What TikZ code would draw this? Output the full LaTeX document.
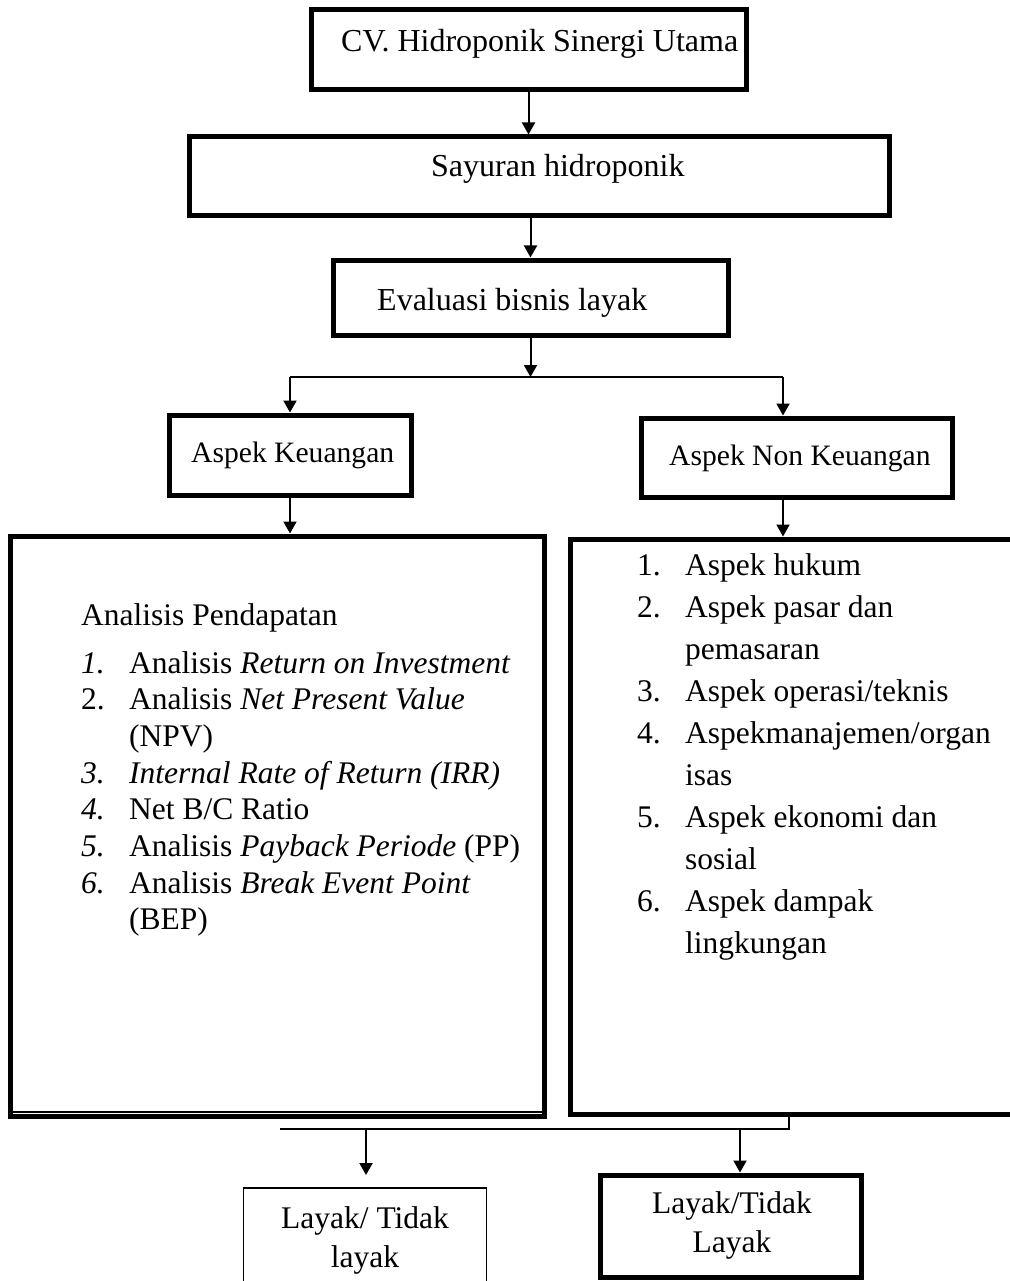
\documentclass[tikz,border=0pt]{standalone}
\usepackage{fontspec}
\setmainfont{Liberation Serif}
\usetikzlibrary{arrows.meta}

\begin{document}
\begin{tikzpicture}[x=1pt,y=-1pt,
  thickbox/.style={draw,line width=5pt,inner sep=0pt},
  thinbox/.style={draw,line width=1.8pt,inner sep=0pt},
  lbl/.style={inner sep=0pt,font=\fontsize{31.5}{38}\selectfont},
  conn/.style={line width=2pt,-{Triangle[length=12pt,width=13pt]}},
  plain/.style={line width=2pt}]
  \useasboundingbox (0,0) rectangle (1009,1281);
  % boxes
  \node[thickbox,minimum width=435pt,minimum height=80pt] (cv) at (528.5,50) {};
  \node[thickbox,minimum width=700pt,minimum height=79pt] (sayur) at (539,176.5) {};
  \node[thickbox,minimum width=395pt,minimum height=75pt] (evb) at (530.5,297.5) {};
  \node[thickbox,minimum width=242pt,minimum height=80pt] (keu) at (290,455) {};
  \node[thickbox,minimum width=311pt,minimum height=79pt] (nonkeu) at (796.5,457.5) {};
  \node[thickbox,minimum width=534pt,minimum height=580pt] (finbox) at (277,826) {};
  \node[thickbox,minimum width=470pt,minimum height=575pt] (nfinbox) at (805,826.5) {};
  \node[thinbox,minimum width=243pt,minimum height=112pt] (hasil1) at (365,1244) {};
  \node[thickbox,minimum width=261pt,minimum height=102pt] (hasil2) at (730.5,1226) {};
  \draw[line width=1.8pt] ([yshift=6.5pt]finbox.south west) -- ([yshift=6.5pt]finbox.south east);

  % texts
  \node[lbl,anchor=base west,font=\fontsize{32}{38}\selectfont] (cvtext) at (341,52) {CV. Hidroponik Sinergi Utama};
  \node[lbl,anchor=base west,font=\fontsize{32}{38}\selectfont] (sayurtext) at (431,177) {Sayuran hidroponik};
  \node[lbl,anchor=base west,font=\fontsize{32}{38}\selectfont] (evbtext) at (377,310) {Evaluasi bisnis layak};
  \node[lbl,anchor=base west,font=\fontsize{29.6}{36}\selectfont] (keutext) at (191,462) {Aspek Keuangan};
  \node[lbl,anchor=base west,font=\fontsize{29.6}{36}\selectfont] (nonkeutext) at (669,465) {Aspek Non Keuangan};

  \node[lbl,anchor=base west,font=\fontsize{31.5}{36.7}\selectfont] (finlist) at (81,625) {%
    \begin{tabular}[t]{@{}p{48pt}@{}l@{}}
      \multicolumn{2}{@{}l@{}}{Analisis Pendapatan}\\[11.3pt]
      \textit{1.} & Analisis \textit{Return on Investment}\\
      2.          & Analisis \textit{Net Present Value}\\
                  & (NPV)\\
      \textit{3.} & \textit{Internal Rate of Return (IRR)}\\
      \textit{4.} & Net B/C Ratio\\
      \textit{5.} & Analisis \textit{Payback Periode} (PP)\\
      \textit{6.} & Analisis \textit{Break Event Point}\\
                  & (BEP)
    \end{tabular}};

  \node[lbl,anchor=base west,font=\fontsize{31.5}{42}\selectfont] (nfinlist) at (637,575) {%
    \begin{tabular}[t]{@{}p{48pt}@{}l@{}}
      1. & Aspek hukum\\
      2. & Aspek pasar dan\\
         & pemasaran\\
      3. & Aspek operasi/teknis\\
      4. & Aspekmanajemen/organ\\
         & isas\\
      5. & Aspek ekonomi dan\\
         & sosial\\
      6. & Aspek dampak\\
         & lingkungan
    \end{tabular}};

  \node[lbl,anchor=base,font=\fontsize{31.5}{39}\selectfont] (hasil1text) at (365,1228)
    {\begin{tabular}[t]{@{}c@{}}Layak/ Tidak\\ layak\end{tabular}};
  \node[lbl,anchor=base,font=\fontsize{31.5}{39}\selectfont] (hasil2text) at (732,1213)
    {\begin{tabular}[t]{@{}c@{}}Layak/Tidak\\ Layak\end{tabular}};

  % connectors
  \coordinate (jl) at (290,377);
  \coordinate (jr) at (783,377);
  \coordinate (jb) at (789,1129);
  \coordinate (jbl) at (280,1129);
  \coordinate (j2) at (740,1129);
  \coordinate (tip1) at (366,1175);
  \draw[conn] (cv.south) -- (cv.south |- sayur.north);
  \draw[conn] (evb.north |- sayur.south) -- (evb.north);
  \draw[conn] (evb.south) -- (evb.south |- jl);
  \draw[plain] (jl) -- (jr);
  \draw[conn] (jl) -- (keu.north);
  \draw[conn] (jr) -- (jr |- nonkeu.north);
  \draw[conn] (keu.south) -- (keu.south |- finbox.north);
  \draw[conn] (jr |- nonkeu.south) -- (jr |- nfinbox.north);
  \draw[plain] (jb |- nfinbox.south) -- (jb) -- (jbl);
  \draw[conn] (tip1 |- jb) -- (tip1);
  \draw[conn] (j2) -- (j2 |- hasil2.north);
\end{tikzpicture}
\end{document}
